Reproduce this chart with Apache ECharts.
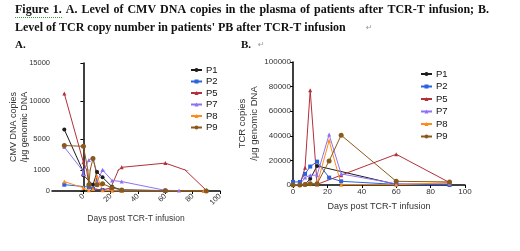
<!DOCTYPE html>
<html>
<head>
<meta charset="utf-8">
<script src="https://cdn.jsdelivr.net/npm/echarts@6/dist/echarts.min.js"></script>
<style>
  html, body { margin: 0; padding: 0; background: #fff; }
  #main { width: 520px; height: 251px; }
</style>
</head>
<body>
<div id="main"></div>
<script>
var patients = ["P1", "P2", "P5", "P7", "P8", "P9"];
var colors = ["#1c1c1c", "#2a62e0", "#b3303a", "#8f72f2", "#ff8c1a", "#8a5a1c"];
var symbols = ["circle", "rect", "triangle", "triangle", "triangle", "circle"];

// A. CMV DNA copies /ug genomic DNA  [day, value]
var cmvP1 = [[-14, 6300], [0, 750], [7, 300], [10, 900], [14, 650], [21, 200], [28, 50], [60, 20], [90, 10]];
var cmvP2 = [[-14, 300], [4, 190], [7, 100], [14, 50], [28, 10], [60, 10]];
var cmvP5 = [[-14, 11000], [0, 2000], [4, 300], [7, 100], [14, 50], [20, 150], [28, 1350], [60, 1900], [90, 30]];
var cmvP7 = [[-14, 4000], [0, 800], [4, 2300], [7, 2600], [10, 450], [14, 1000], [21, 500], [28, 450], [60, 30], [70, 20]];
var cmvP8 = [[-14, 450], [0, 150], [4, 30], [7, 100], [10, 700], [14, 30], [21, 10], [28, 0], [60, 0], [88, 0]];
var cmvP9 = [[-14, 4200], [0, 4100], [4, 300], [7, 2500], [10, 300], [14, 350], [21, 150], [28, 50], [60, 10], [90, 0]];

// B. TCR copies /ug genomic DNA  [day, value]
var tcrP1 = [[0, 0], [4, 0], [7, 500], [10, 5000], [14, 15500], [60, 500], [91, 0]];
var tcrP2 = [[0, 2500], [4, 2500], [7, 9000], [10, 15000], [14, 19000], [21, 6000], [28, 3000], [60, 500], [91, 0]];
var tcrP5 = [[0, 0], [4, 300], [7, 14000], [10, 77000], [14, 500], [28, 8000], [60, 25000], [91, 2000]];
var tcrP7 = [[0, 0], [4, 500], [7, 6000], [10, 8000], [14, 8000], [21, 41000], [28, 9000], [60, 1000], [91, 1000]];
var tcrP8 = [[0, 0], [4, 0], [7, 500], [10, 1500], [14, 500], [21, 36000], [28, 300], [60, 200], [91, 2000]];
var tcrP9 = [[0, 0], [4, 0], [7, 500], [10, 1000], [14, 1000], [21, 19500], [28, 40500], [60, 3000], [91, 2500]];

var cmvData = [cmvP1, cmvP2, cmvP5, cmvP7, cmvP8, cmvP9];
var tcrData = [tcrP1, tcrP2, tcrP5, tcrP7, tcrP8, tcrP9];

var xTicksA = [0, 20, 40, 60, 80, 100];
var yTicksATop = [5000, 10000, 15000];

var myChart = echarts.init(document.getElementById("main"));

var font = "Liberation Sans, Arial, sans-serif";
var serif = "'Liberation Serif', 'Times New Roman', serif";
var axisLine = { lineStyle: { color: "#000", width: 1.5 } };
var axisTick = { length: 3, lineStyle: { color: "#000" } };
var plain = function(v) { return String(v); }; // no thousands separator
var lblStyle = { fontFamily: font, fontSize: 7.5, color: "#333", margin: 2, formatter: plain };

function mkSeries(name, i, data, xi, yi) {
  return {
    name: name,
    type: "line",
    xAxisIndex: xi,
    yAxisIndex: yi,
    data: data,
    clip: true,
    symbol: symbols[i],
    symbolSize: i == 5 ? 5 : 4,
    color: colors[i],
    lineStyle: { width: 1 },
    animation: false
  };
}

var series = [];
patients.forEach(function(p, i) {
  series.push(mkSeries(p, i, cmvData[i], 0, 0)); // A upper part
  series.push(mkSeries(p, i, cmvData[i], 1, 1)); // A lower part (0-1000)
  series.push(mkSeries(p, i, tcrData[i], 2, 2)); // B
});

function mkLegend(left, top, gap) {
  return {
    orient: "vertical",
    left: left,
    top: top,
    itemWidth: 11,
    itemHeight: 5,
    itemGap: gap,
    data: patients,
    textStyle: { fontFamily: font, fontSize: 9.5, color: "#111", padding: [0, 0, 0, -1] }
  };
}

// justified first caption line: widen the word gaps a bit
var line1 = "Figure 1. A. Level of CMV DNA copies in the plasma of patients after TCR-T infusion; B.".split(" ").join(" \u200A");

myChart.setOption({
  backgroundColor: "#fff",
  animation: false,
  legend: [mkLegend(185, 60, 1.5), mkLegend(415, 64, 2.5)],
  grid: [
    { left: 52, top: 63, width: 168, height: 107 },
    { left: 52, top: 170, width: 168, height: 21 },
    { left: 293, top: 62, width: 172, height: 123 }
  ],
  xAxis: [
    { gridIndex: 0, type: "value", min: -23, max: 100, show: false },
    {
      gridIndex: 1, type: "value", min: -23, max: 100,
      axisLine: axisLine,
      axisTick: { length: 3, lineStyle: { color: "#000" }, customValues: xTicksA },
      axisLabel: Object.assign({}, lblStyle, { rotate: 45, customValues: xTicksA, margin: 4 }),
      splitLine: { show: false },
      name: "Days post TCR-T infusion",
      nameLocation: "middle",
      nameGap: 23,
      nameTextStyle: { fontFamily: font, fontSize: 8.5, color: "#333" }
    },
    {
      gridIndex: 2, type: "value", min: 0, max: 100, interval: 20,
      axisLine: axisLine,
      axisTick: axisTick,
      axisLabel: Object.assign({}, lblStyle, { fontSize: 8, margin: 3 }),
      splitLine: { show: false },
      name: "Days post TCR-T infusion",
      nameLocation: "middle",
      nameGap: 17,
      nameTextStyle: { fontFamily: font, fontSize: 9, color: "#333" }
    }
  ],
  yAxis: [
    {
      gridIndex: 0, type: "value", min: 1000, max: 15000,
      axisLine: axisLine,
      axisTick: { length: 3, lineStyle: { color: "#000" }, customValues: yTicksATop },
      axisLabel: Object.assign({}, lblStyle, { customValues: yTicksATop }),
      splitLine: { show: false }
    },
    {
      gridIndex: 1, type: "value", min: 0, max: 1000, interval: 1000,
      axisLine: axisLine,
      axisTick: axisTick,
      axisLabel: lblStyle,
      splitLine: { show: false }
    },
    {
      gridIndex: 2, type: "value", min: 0, max: 100000, interval: 20000,
      axisLine: axisLine,
      axisTick: axisTick,
      axisLabel: Object.assign({}, lblStyle, { fontSize: 8 }),
      splitLine: { show: false },
      name: "TCR copies\n/μg genomic DNA",
      nameLocation: "middle",
      nameGap: 33,
      nameTextStyle: { fontFamily: font, fontSize: 9.5, color: "#333", lineHeight: 12 }
    }
  ],
  graphic: [
    { type: "text", left: 15, top: 4, style: { text: line1, font: "bold 12px " + serif, fill: "#111" } },
    { type: "text", left: 15, top: 22, style: { text: "Level of TCR copy number in patients' PB after TCR-T infusion", font: "bold 12px " + serif, fill: "#111" } },
    { type: "text", left: 366, top: 24, style: { text: "↵", font: "8px 'DejaVu Sans'", fill: "#999" } },
    { type: "text", left: 15, top: 40, style: { text: "A.", font: "bold 11px " + serif, fill: "#111" } },
    { type: "text", left: 241, top: 40, style: { text: "B.", font: "bold 11px " + serif, fill: "#111" } },
    { type: "text", left: 258, top: 41, style: { text: "↵", font: "8px 'DejaVu Sans'", fill: "#999" } },
    {
      type: "polyline",
      shape: { points: [[15, 17.5], [62, 17.5]] },
      style: { stroke: "#3a9a3a", lineWidth: 1, lineDash: [1, 1] }
    },
    {
      type: "text", x: 19, y: 127, rotation: Math.PI / 2,
      style: {
        text: "CMV DNA copies\n/μg genomic DNA",
        font: "9px " + font, fill: "#333",
        align: "center", verticalAlign: "middle", lineHeight: 11
      }
    }
  ],
  series: series
});
</script>
</body>
</html>
